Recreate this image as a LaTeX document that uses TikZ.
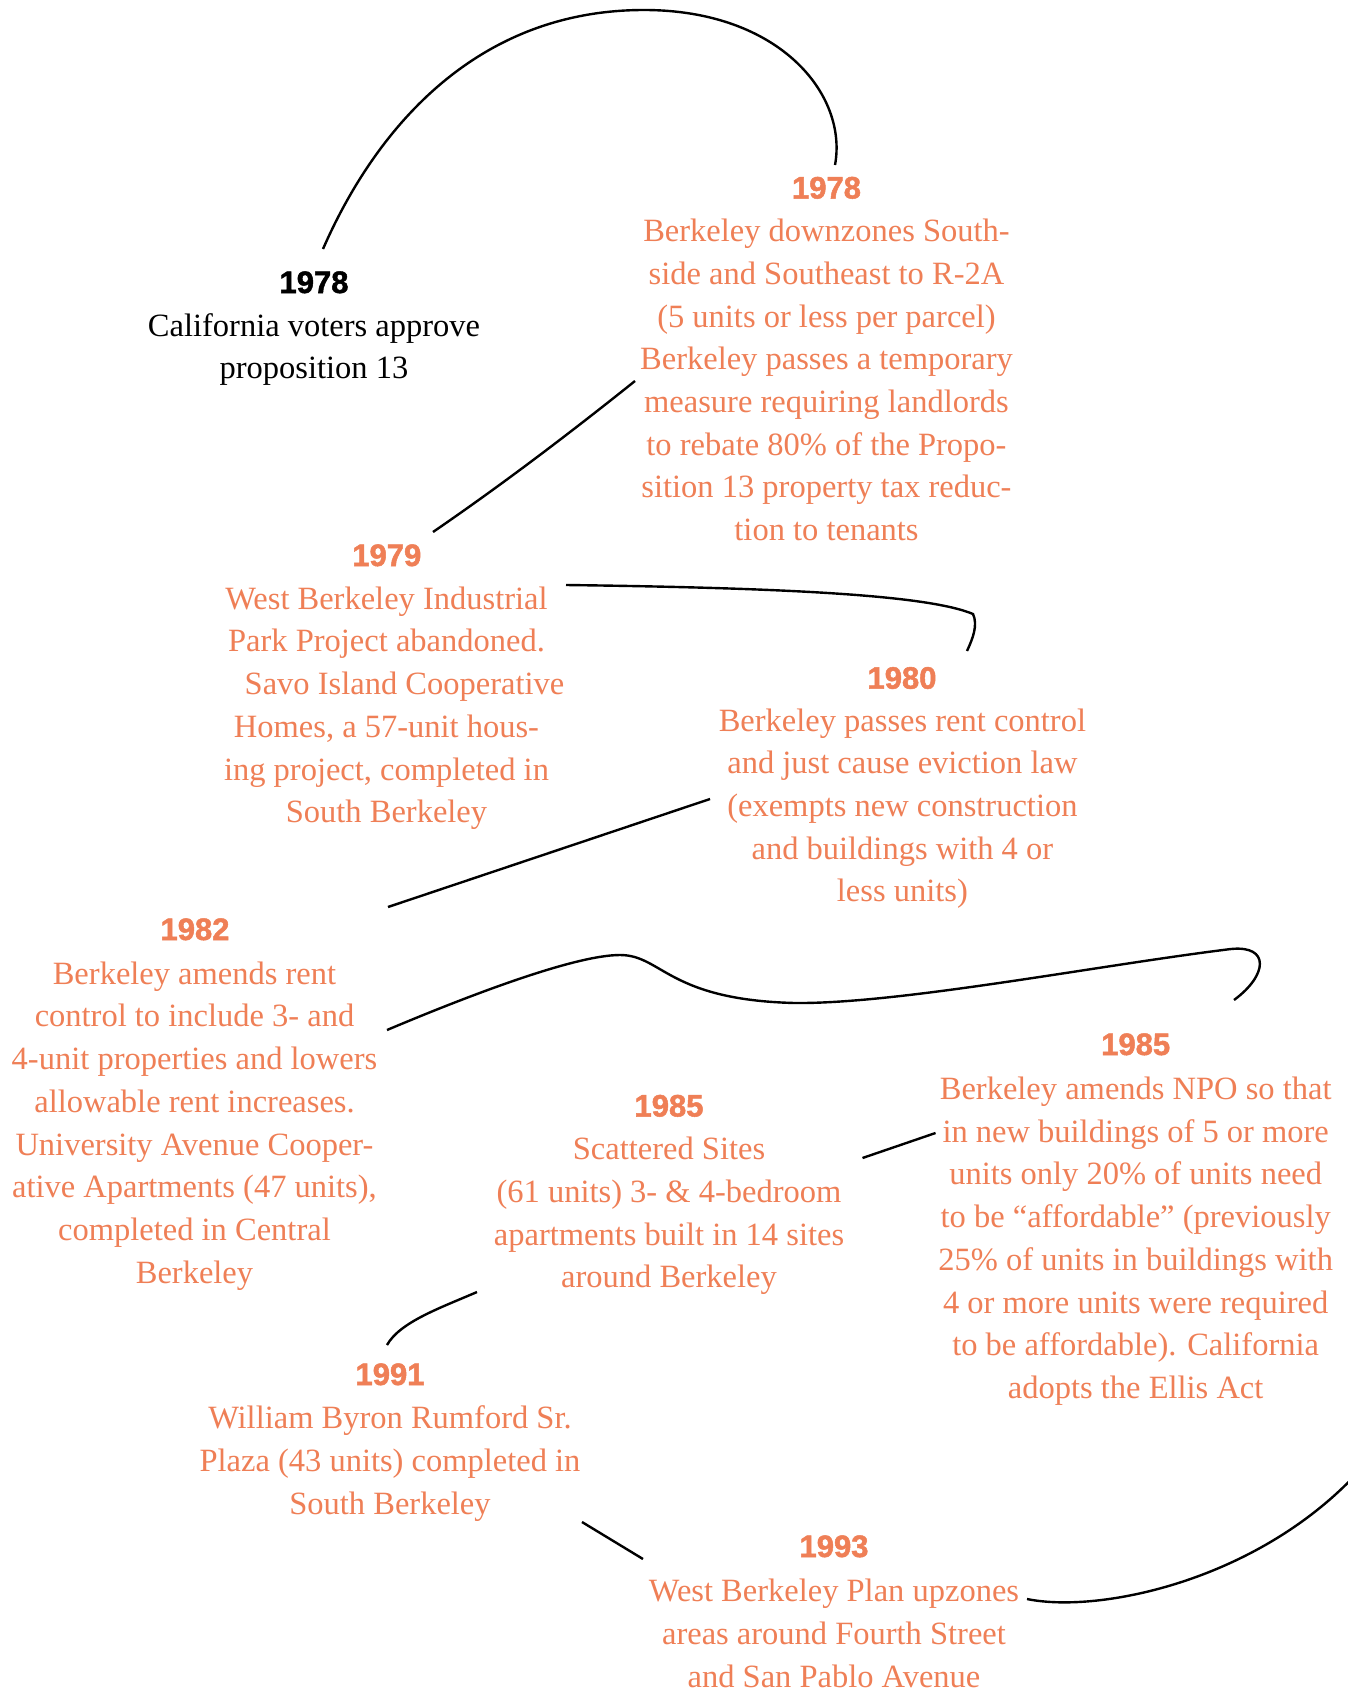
\documentclass[tikz,border=0pt]{standalone}
\usepackage{fontspec}
\setmainfont{Liberation Serif}
\newfontfamily\yearfamily[BoldFeatures={FakeBold=1.6}]{Liberation Sans}
\definecolor{evorange}{RGB}{239,127,86}
\newcommand\bodyfnt{\fontsize{32.5}{42.7}\selectfont}
\newcommand\yearfnt{\yearfamily\bfseries\fontsize{31}{37}\selectfont}
\tikzset{
  yr/.style={anchor=base, inner sep=0pt, font=\yearfnt, text=evorange},
  ev/.style={anchor=north, inner sep=0pt, align=center, font=\bodyfnt, text=evorange},
  link/.style={line width=2.4pt, line cap=butt, draw=black},
}
\begin{document}
\begin{tikzpicture}[x=1pt,y=-1pt]
\useasboundingbox (0,0) rectangle (1348,1689);
\fill[white] (0,0) rectangle (1348,1689);

% events
\node[yr, text=black] (y1) at (314,293) {1978};
\node[ev, text=black] (t1) at (314,313) {California voters approve\\proposition 13};

\node[yr] (y2) at (826.5,198.5) {1978};
\node[ev] (t2) at (826.5,219) {Berkeley downzones South-\\side and Southeast to R-2A\\(5 units or less per parcel)\\Berkeley passes a temporary\\measure requiring landlords\\to rebate 80\% of the Propo-\\sition 13 property tax reduc-\\tion to tenants};

\node[yr] (y3) at (386.8,566) {1979};
\node[ev] (t3) at (386.5,586.5) {West Berkeley Industrial\\Park Project abandoned.\\\hspace*{36pt}Savo Island Cooperative\\Homes, a 57-unit hous-\\ing project, completed in\\South Berkeley};

\node[yr] (y4) at (902,688.7) {1980};
\node[ev] (t4) at (902.4,708.3) {Berkeley passes rent control\\and just cause eviction law\\(exempts new construction\\and buildings with 4 or\\less units)};

\node[yr] (y5) at (195,940) {1982};
\node[ev] (t5) at (194.5,961.5) {Berkeley amends rent\\control to include 3- and\\4-unit properties and lowers\\allowable rent increases.\\University Avenue Cooper-\\ative Apartments (47 units),\\completed in Central\\Berkeley};

\node[yr] (y6) at (669,1116.5) {1985};
\node[ev] (t6) at (669,1137) {Scattered Sites\\(61 units) 3- \& 4-bedroom\\apartments built in 14 sites\\around Berkeley};

\node[yr] (y7) at (1135.7,1055) {1985};
\node[ev] (t7) at (1135.7,1076.8) {Berkeley amends NPO so that\\in new buildings of 5 or more\\units only 20\% of units need\\to be “affordable” (previously\\25\% of units in buildings with\\4 or more units were required\\to be affordable). California\\adopts the Ellis Act};

\node[yr] (y8) at (390,1385) {1991};
\node[ev] (t8) at (390,1405.5) {William Byron Rumford Sr.\\Plaza (43 units) completed in\\South Berkeley};

\node[yr] (y9) at (834,1557) {1993};
\node[ev] (t9) at (834,1579) {West Berkeley Plan upzones\\areas around Fourth Street\\and San Pablo Avenue};

% connector end points
\coordinate (a1) at (323,249);   \coordinate (b1) at (835,165);
\coordinate (a2) at (635,381);   \coordinate (b2) at (433,532);
\coordinate (a3) at (566,585);   \coordinate (b3) at (967,651);
\coordinate (a4) at (710,799);   \coordinate (b4) at (388,907);
\coordinate (a5) at (387,1030);  \coordinate (b5) at (1234,1000);
\coordinate (a6) at (935.5,1133);\coordinate (b6) at (862.5,1158);
\coordinate (a7) at (477,1292);  \coordinate (b7) at (387,1345);
\coordinate (a8) at (582,1522);  \coordinate (b8) at (643,1559);
\coordinate (a9) at (1027,1599); \coordinate (b9) at (1360,1470);

% connectors
\draw[link] (a1) .. controls (375,130) and (475,10) .. (644,10)
                 .. controls (780,10) and (848,95) .. (b1);
\draw[link] (a2) .. controls (570,433) and (503,484) .. (b2);
\draw[link] (a3) .. controls (800,588) and (930,596) .. (973,614)
                 .. controls (978,625) and (973,638) .. (b3);
\draw[link] (a4) -- (b4);
\draw[link] (a5) .. controls (470,995) and (575,955) .. (620,955)
                 .. controls (662,955) and (668,1000) .. (795,1003)
                 .. controls (900,1004) and (1100,965) .. (1231,949)
                 .. controls (1270,945) and (1268,975) .. (b5);
\draw[link] (a6) -- (b6);
\draw[link] (a7) .. controls (440,1308) and (400,1322) .. (b7);
\draw[link] (a8) -- (b8);
\draw[link] (a9) .. controls (1100,1614) and (1260,1580) .. (b9);
\end{tikzpicture}
\end{document}
